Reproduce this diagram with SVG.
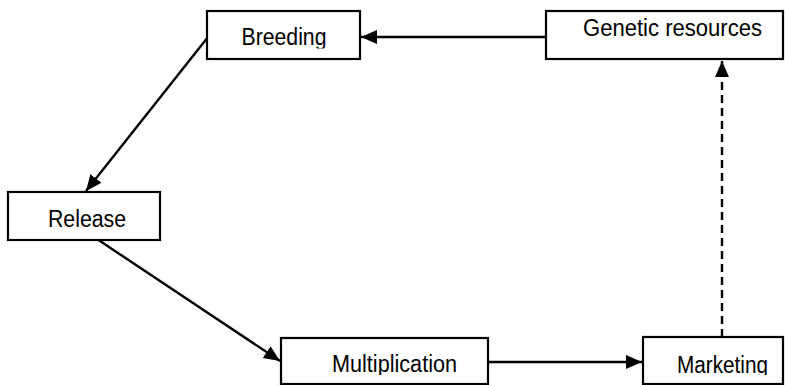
<svg xmlns="http://www.w3.org/2000/svg" width="785" height="385" viewBox="0 0 785 385">
<style>
.box{fill:#fff;stroke:#000;stroke-width:2.2}
.lbl{font-family:"Liberation Sans",Arial,sans-serif;font-size:23.5px;fill:#000;text-anchor:middle}
.edge{stroke:#000;stroke-width:2.4;fill:none}
.dash{stroke-dasharray:8 5}
</style>
<defs>
<marker id="ah" markerUnits="userSpaceOnUse" markerWidth="17" markerHeight="15" refX="16" refY="7" orient="auto">
<path d="M0,0 L16,7 L0,14 z" fill="#000"/>
</marker>
<clipPath id="cb"><rect x="200" y="0" width="170" height="48.5"/></clipPath>
<clipPath id="cm"><rect x="270" y="330" width="515" height="45"/></clipPath>
</defs>
<rect width="785" height="385" fill="#fff"/>
<g id="connectors">
<line class="edge" x1="546" y1="37" x2="361" y2="37" marker-end="url(#ah)"/>
<line class="edge" x1="208" y1="37" x2="86" y2="191" marker-end="url(#ah)"/>
<line class="edge" x1="97" y1="239" x2="280" y2="361" marker-end="url(#ah)"/>
<line class="edge" x1="488" y1="362" x2="642" y2="362" marker-end="url(#ah)"/>
<line class="edge dash" x1="722" y1="337" x2="722" y2="61" marker-end="url(#ah)"/>
</g>
<g id="breeding">
<rect class="box" x="207" y="11" width="153" height="48"/>
<text class="lbl" x="284" y="45" textLength="85" lengthAdjust="spacingAndGlyphs" clip-path="url(#cb)">Breeding</text>
</g>
<g id="genetic-resources">
<rect class="box" x="546" y="11" width="237" height="48"/>
<text class="lbl" x="672.5" y="36" textLength="179" lengthAdjust="spacingAndGlyphs">Genetic resources</text>
</g>
<g id="release">
<rect class="box" x="8" y="192" width="152" height="48"/>
<text class="lbl" x="87" y="227" textLength="78" lengthAdjust="spacingAndGlyphs">Release</text>
</g>
<g id="multiplication">
<rect class="box" x="281" y="338" width="207" height="46"/>
<text class="lbl" x="394.5" y="372" textLength="125" lengthAdjust="spacingAndGlyphs" clip-path="url(#cm)">Multiplication</text>
</g>
<g id="marketing">
<rect class="box" x="643" y="337" width="140" height="47"/>
<text class="lbl" x="722.5" y="373" textLength="91" lengthAdjust="spacingAndGlyphs" clip-path="url(#cm)">Marketing</text>
</g>
</svg>
